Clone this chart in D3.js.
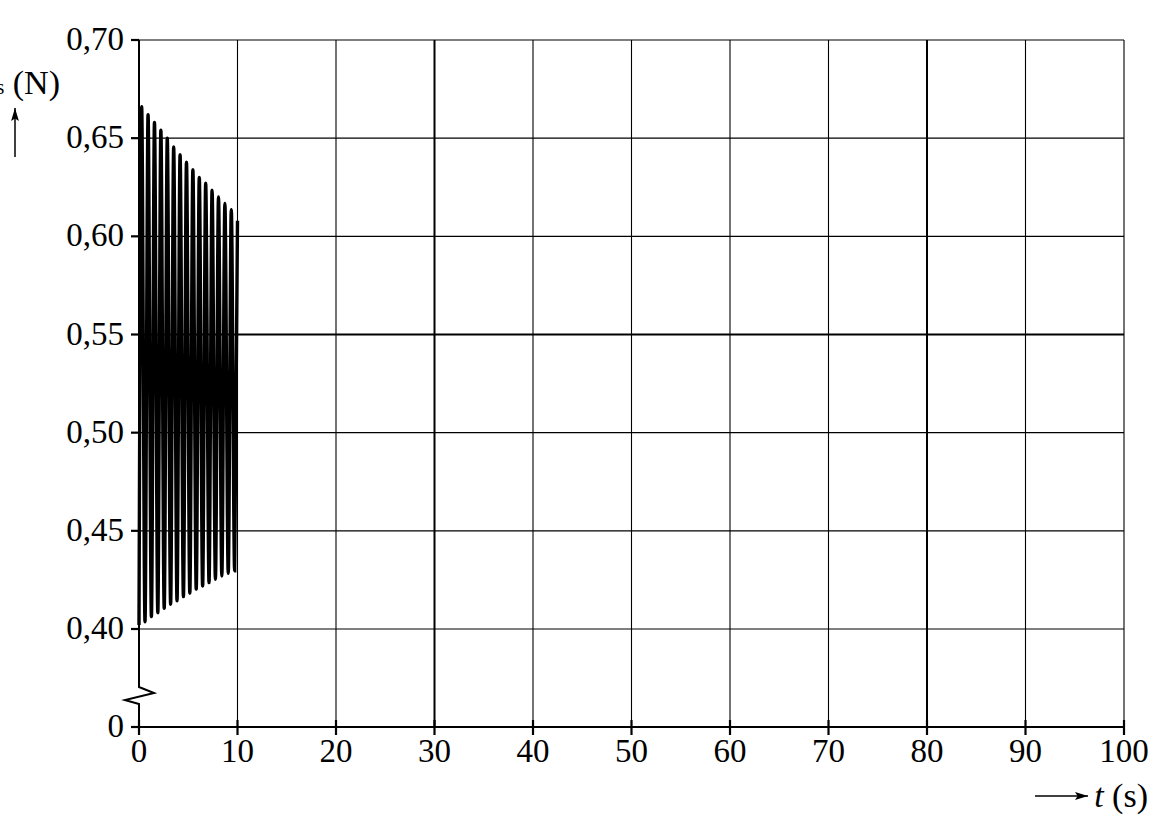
<!DOCTYPE html>
<html>
<head>
<meta charset="utf-8">
<script src="https://cdn.jsdelivr.net/npm/d3@7"></script>
<style>
	body { margin: 0; background: #fff; }
	svg { display: block; font-family: "Liberation Serif", "DejaVu Serif", serif; }
</style>
</head>
<body>
<svg id="chart" width="1175" height="835"></svg>
<script>
//Tick values of both axes.
var xTicks = [0, 10, 20, 30, 40, 50, 60, 70, 80, 90, 100];
var yTicks = [0, 0.40, 0.45, 0.50, 0.55, 0.60, 0.65, 0.70];

//Oscillation: start, peaks and troughs (t in s, F in N).
var startPoint = [0, 0.402];
var peakTimes = [0.27, 0.92, 1.57, 2.22, 2.87, 3.52, 4.17, 4.82, 5.47, 6.12, 6.77, 7.42, 8.07, 8.72, 9.37];
var peakValues = [0.666, 0.662, 0.658, 0.654, 0.650, 0.6455, 0.6416, 0.6377, 0.634, 0.630, 0.627, 0.6235, 0.620, 0.6167, 0.6136];
var troughTimes = [0.61, 1.26, 1.91, 2.56, 3.21, 3.86, 4.51, 5.16, 5.81, 6.46, 7.11, 7.76, 8.41, 9.06, 9.71];
var troughValues = [0.4037, 0.4063, 0.4083, 0.4105, 0.4126, 0.4144, 0.4165, 0.4182, 0.4202, 0.4219, 0.4236, 0.4253, 0.427, 0.4284, 0.4297];
var endPoint = [10, 0.608];

var svg = d3.select("#chart");

var x = d3.scaleLinear().domain([0, 100]).range([139, 1124]);
//Broken axis: 0 sits one grid step below 0,40.
var y = d3.scaleLinear().domain([0, 0.40, 0.70]).range([727, 629, 40]);

//Grid.
var grid = svg.append("g").attr("stroke", "#000").attr("fill", "none");
grid.selectAll("line.v")
	.data(xTicks.filter(function(d){ return d > 0; }))
	.enter()
	.append("line")
	.attr("x1", function(d){ return x(d); })
	.attr("x2", function(d){ return x(d); })
	.attr("y1", y(0.70))
	.attr("y2", y(0))
	.attr("stroke-width", function(d){ return (d === 30 || d === 80) ? 2 : 1.1; });

grid.selectAll("line.h")
	.data(yTicks.filter(function(d){ return d > 0; }))
	.enter()
	.append("line")
	.attr("x1", x(0))
	.attr("x2", x(100))
	.attr("y1", function(d){ return y(d); })
	.attr("y2", function(d){ return y(d); })
	.attr("stroke-width", function(d){ return d === 0.55 ? 2 : 1.1; });

//Curve through the extremes.
var points = [startPoint];
peakTimes.forEach(function(t, i){
	points.push([t, peakValues[i]]);
	points.push([troughTimes[i], troughValues[i]]);
});
points.push(endPoint);

var line = d3.line()
	.x(function(d){ return x(d[0]); })
	.y(function(d){ return y(d[1]); })
	.curve(d3.curveMonotoneX);

svg.append("path")
	.datum(points)
	.attr("d", line)
	.attr("fill", "none")
	.attr("stroke", "#000")
	.attr("stroke-width", 3.4);

//Y axis with break symbol.
var y0 = y(0), x0 = x(0);
svg.append("path")
	.attr("d", "M" + x0 + "," + y(0.70) + "V" + (y0 - 40) +
		"L" + (x0 + 15) + "," + (y0 - 34) +
		"L" + (x0 - 14) + "," + (y0 - 27) +
		"L" + x0 + "," + (y0 - 23) + "V" + y0)
	.attr("fill", "none")
	.attr("stroke", "#000")
	.attr("stroke-width", 2);

//X axis line.
svg.append("line")
	.attr("x1", x0 - 1).attr("x2", x(100))
	.attr("y1", y0).attr("y2", y0)
	.attr("stroke", "#000")
	.attr("stroke-width", 2.2);

//Y ticks and labels.
var yAxis = svg.append("g");
yAxis.selectAll("line")
	.data(yTicks)
	.enter()
	.append("line")
	.attr("x1", x0 - 8).attr("x2", x0)
	.attr("y1", function(d){ return y(d); })
	.attr("y2", function(d){ return y(d); })
	.attr("stroke", "#000")
	.attr("stroke-width", 2.2);

yAxis.selectAll("text")
	.data(yTicks)
	.enter()
	.append("text")
	.attr("x", 124)
	.attr("y", function(d){ return y(d) + 10; })
	.attr("text-anchor", "end")
	.attr("font-size", 33)
	.text(function(d){ return d === 0 ? "0" : d3.format(".2f")(d).replace(".", ","); });

//X ticks and labels.
var xAxis = svg.append("g");
xAxis.selectAll("line")
	.data(xTicks)
	.enter()
	.append("line")
	.attr("x1", function(d){ return x(d); })
	.attr("x2", function(d){ return x(d); })
	.attr("y1", y0 - 7).attr("y2", y0 + 8)
	.attr("stroke", "#000")
	.attr("stroke-width", 2.2);

xAxis.selectAll("text")
	.data(xTicks)
	.enter()
	.append("text")
	.attr("x", function(d){ return x(d); })
	.attr("y", y0 + 35)
	.attr("text-anchor", "middle")
	.attr("font-size", 33)
	.text(function(d){ return d; });

//Axis titles with arrows.
svg.append("defs").append("marker")
	.attr("id", "arrow")
	.attr("viewBox", "0 0 10 6")
	.attr("refX", 10).attr("refY", 3)
	.attr("markerWidth", 13).attr("markerHeight", 8)
	.attr("markerUnits", "userSpaceOnUse")
	.attr("orient", "auto")
	.append("path")
	.attr("d", "M0,0 L10,3 L0,6 L2,3 Z")
	.attr("fill", "#000");

var xTitle = svg.append("text")
	.attr("x", 1148)
	.attr("y", 807)
	.attr("text-anchor", "end")
	.attr("font-size", 34);
xTitle.append("tspan").attr("font-style", "italic").text("t");
xTitle.append("tspan").text(" (s)");

svg.append("line")
	.attr("x1", 1035).attr("x2", 1088)
	.attr("y1", 796).attr("y2", 796)
	.attr("stroke", "#000")
	.attr("stroke-width", 1.5)
	.attr("marker-end", "url(#arrow)");

//Force title: the reference crops the letter F at the left edge.
var yTitle = svg.append("text")
	.attr("x", 60)
	.attr("y", 94)
	.attr("text-anchor", "end")
	.attr("font-size", 34);
yTitle.append("tspan").attr("font-style", "italic").text("F");
yTitle.append("tspan").attr("font-size", 20).text("s");
yTitle.append("tspan").text(" (N)");

svg.append("line")
	.attr("x1", 15).attr("x2", 15)
	.attr("y1", 157).attr("y2", 108)
	.attr("stroke", "#000")
	.attr("stroke-width", 1.5)
	.attr("marker-end", "url(#arrow)");
</script>
</body>
</html>
